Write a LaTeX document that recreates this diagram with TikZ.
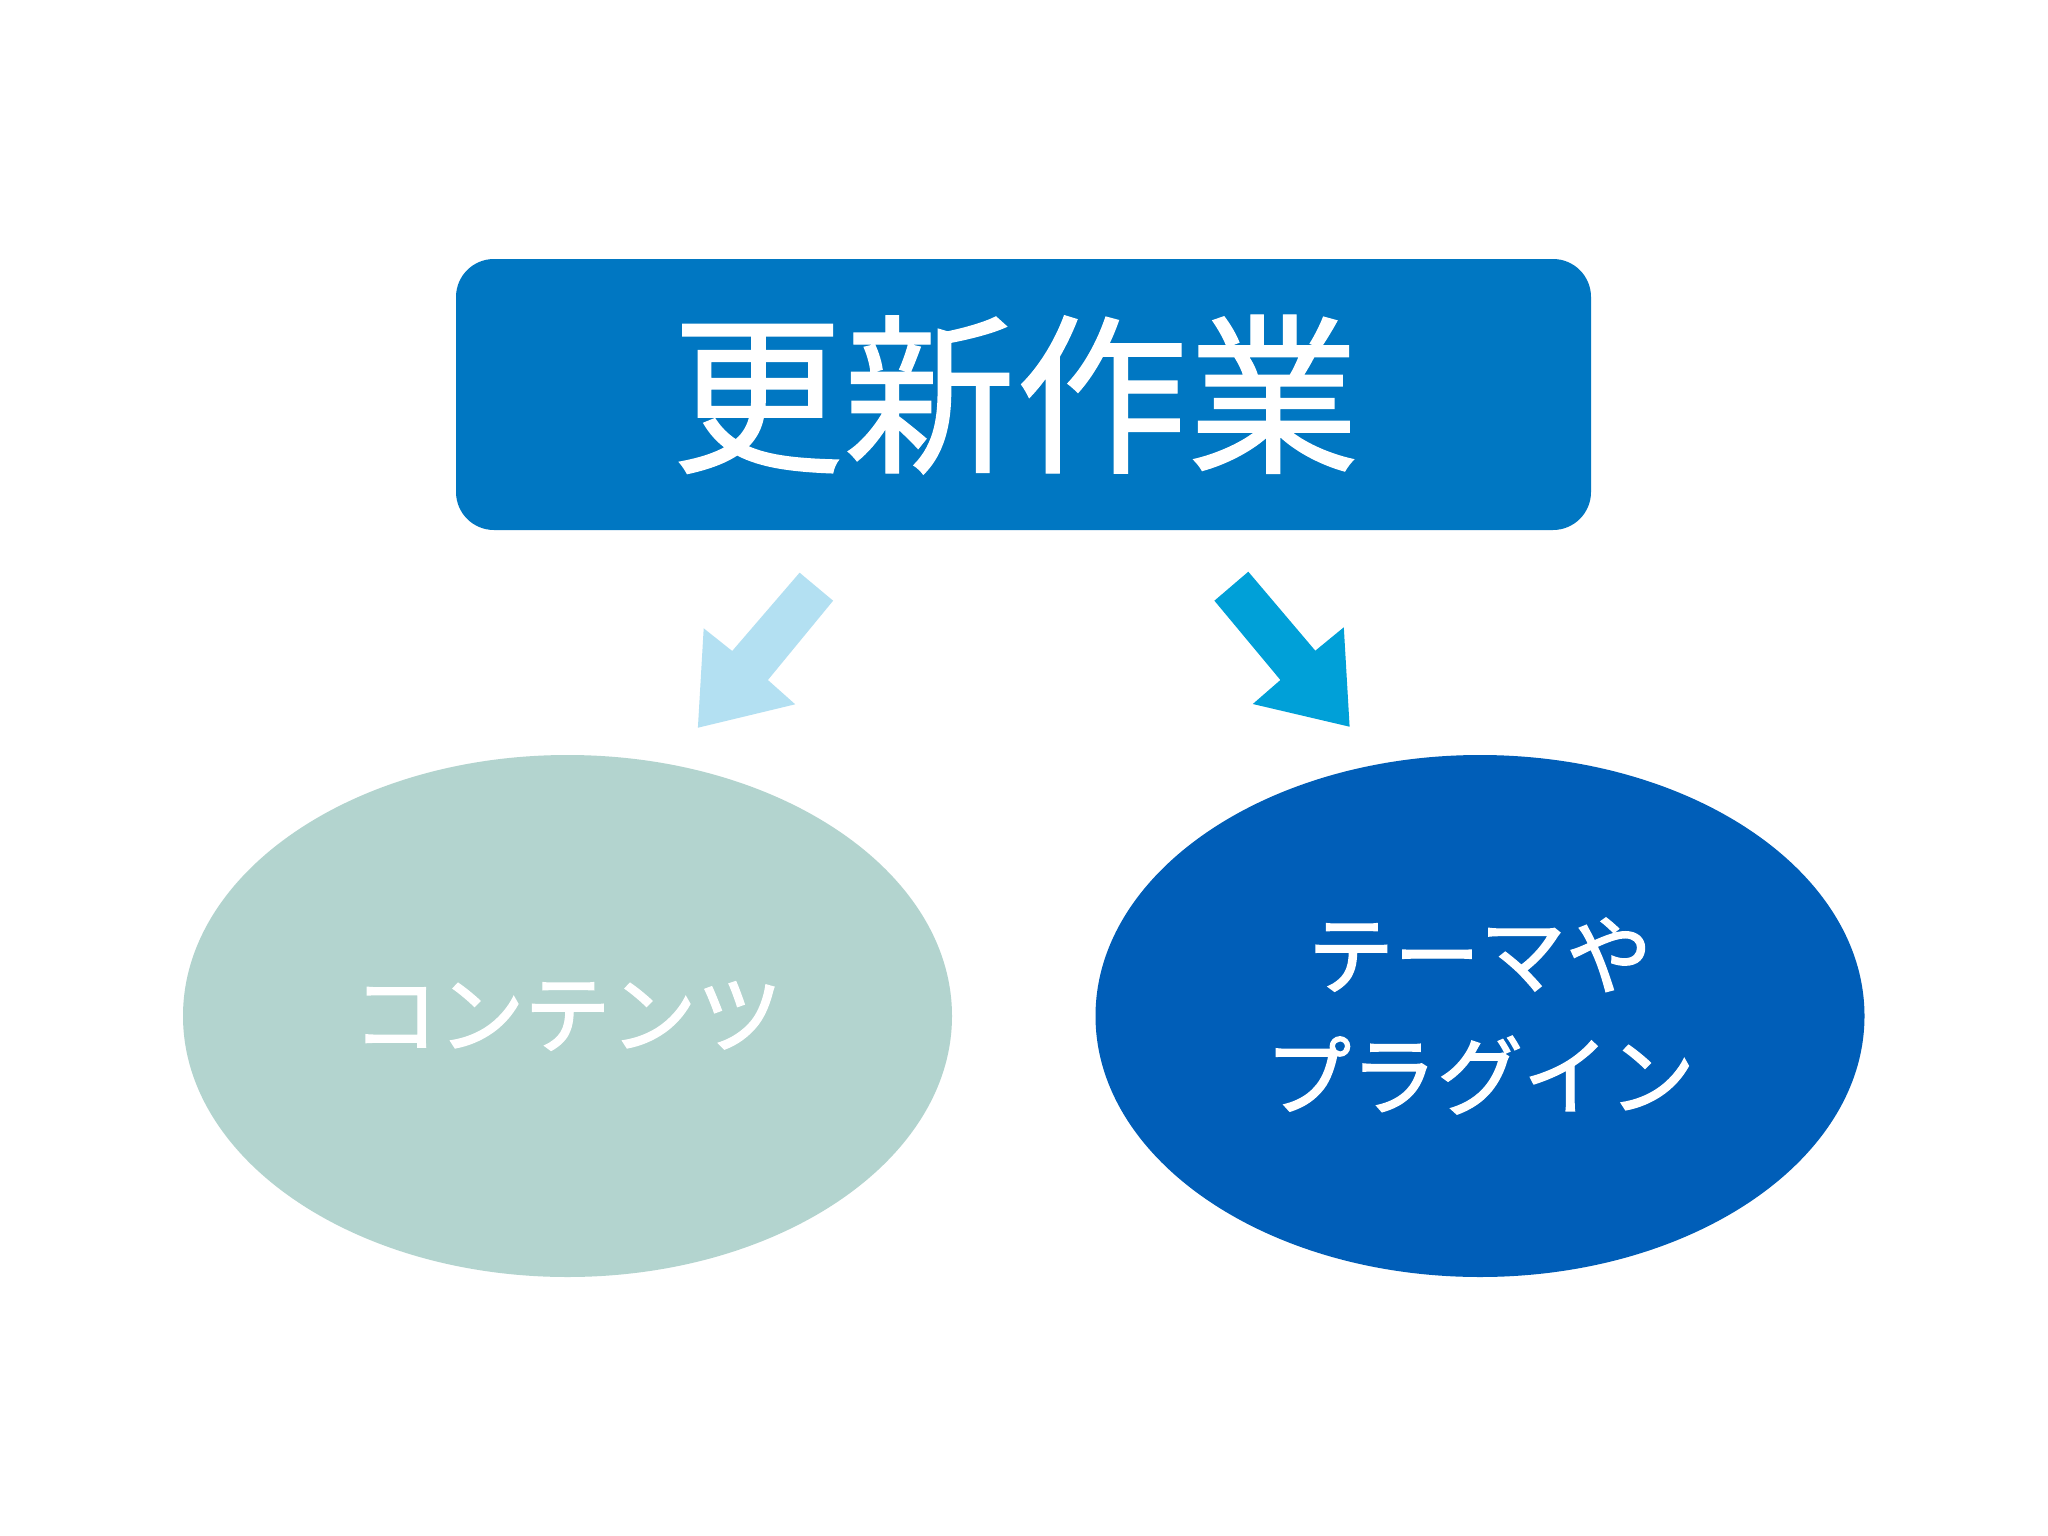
\documentclass[tikz,border=0pt]{standalone}
\usepackage{fontspec}
\newfontfamily\cjk{Noto Sans CJK JP}[FakeBold=0.8]
\newfontfamily\cjkb{Noto Sans CJK JP}[FakeBold=1.6]
\usetikzlibrary{shapes.geometric}
\definecolor{boxblue}{HTML}{0077C2}
\definecolor{arrowlight}{HTML}{B3E0F2}
\definecolor{arrowdark}{HTML}{00A0D8}
\definecolor{sage}{HTML}{B3D4CF}
\definecolor{deepblue}{HTML}{005EB8}
\tikzset{
  titlebox/.style={fill=boxblue, draw=none, rounded corners=38pt, minimum width=1135pt, minimum height=271pt, text=white, font=\cjk\fontsize{172}{190}\selectfont, inner sep=0pt},
  blob/.style={ellipse, draw=none, minimum width=769pt, minimum height=522pt, text=white, inner sep=0pt, align=center, font=\cjkb\fontsize{86}{121}\selectfont},
}
\begin{document}
\begin{tikzpicture}[x=1pt,y=-1pt]
\useasboundingbox[fill=white] (0,0) rectangle (2048,1536);
\node[titlebox] (top) at (1023.5,394.5) {更新作業\hspace*{16pt}};
\node[blob, fill=sage] (left) at (567.5,1016) {コンテンツ};
\node[blob, fill=deepblue] (right) at (1480,1016) {テーマや\\プラグイン};
\fill[arrowlight] (799.6,572.7) -- (833.1,600.7) -- (767.9,680) -- (795.2,704.3) -- (697.9,727.7) -- (703.7,628.3) -- (732.2,651) -- cycle;
\fill[arrowdark] (1248.3,571.7) -- (1214.4,600.7) -- (1280.4,680) -- (1252.8,704) -- (1349.6,726.7) -- (1343.8,627.3) -- (1315.3,650.7) -- cycle;
\end{tikzpicture}
\end{document}
